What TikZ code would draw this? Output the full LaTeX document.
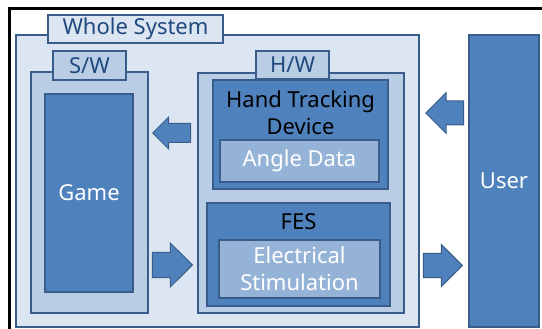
\documentclass[tikz,border=0pt]{standalone}
\usepackage{fontspec}
\setmainfont{Noto Sans}
\usetikzlibrary{shapes.arrows}
\definecolor{clight}{HTML}{DCE6F2}
\definecolor{cmid}{HTML}{B9CDE5}
\definecolor{cdark}{HTML}{4F81BD}
\definecolor{cpale}{HTML}{95B3D7}
\definecolor{cedge}{HTML}{385D8A}
\definecolor{ctitle}{HTML}{1F497D}
\tikzset{
  every picture/.style={font=\fontsize{22}{27}\selectfont},
  box/.style={draw=cedge, fill=#1, line width=1.6pt, inner sep=0pt, align=center, text=white},
  box/.default=cdark,
  tab/.style={box=#1, text=ctitle},
  blockarrow/.style={single arrow, draw=cedge, fill=cdark, line width=1pt, inner xsep=0pt, anchor=tip},
}

\begin{document}
\begin{tikzpicture}[x=1pt, y=-1pt]
  \useasboundingbox (0,0) rectangle (542,329);
  \draw[line width=3pt] (542,9) -| (9,329);
  % whole system
  \node[box=clight, minimum width=403, minimum height=292] (whole) at (217.5,181) {};
  \node[tab=clight, minimum width=175, minimum height=28] (wholetab) at (135.5,29) {Whole System};
  % software side
  \node[box=cmid, minimum width=117, minimum height=241] (sw) at (89.5,192.5) {};
  \node[tab=cmid, minimum width=73, minimum height=29] (swtab) at (89.5,65.5) {S/W};
  \node[box, minimum width=88, minimum height=198] (game) at (89,193) {Game};
  % hardware side
  \node[box=cmid, minimum width=206, minimum height=240] (hw) at (301,193) {};
  \node[tab=cmid, minimum width=73, minimum height=28] (hwtab) at (292.5,65) {H/W};
  \node[box, minimum width=175, minimum height=109] (htd) at (300.5,134.5) {};
  \node[text=black, align=center] (htdtext) at (300.5,113) {Hand Tracking\\Device};
  \node[box=cpale, minimum width=159, minimum height=42] (angle) at (299.5,161) {Angle Data};
  \node[box, minimum width=183, minimum height=103] (fes) at (298.5,254.5) {};
  \node[text=black] (festext) at (298.5,222) {FES};
  \node[box=cpale, minimum width=161, minimum height=58] (elec) at (299.5,269) {Electrical\\Stimulation};
  % user
  \node[box, minimum width=70, minimum height=292] (user) at (504,181) {User};
  % arrows
  \node[blockarrow, shape border rotate=180, minimum height=38, inner ysep=9, single arrow head extend=6.5] (a1) at (152,133) {};
  \node[blockarrow, shape border rotate=180, minimum height=38, inner ysep=11.5, single arrow head extend=8.5] (a2) at (425,113) {};
  \node[blockarrow, minimum height=40, inner ysep=12, single arrow head extend=9.5] (a3) at (193,265) {};
  \node[blockarrow, minimum height=39, inner ysep=11.5, single arrow head extend=9] (a4) at (463,265.5) {};
\end{tikzpicture}
\end{document}
